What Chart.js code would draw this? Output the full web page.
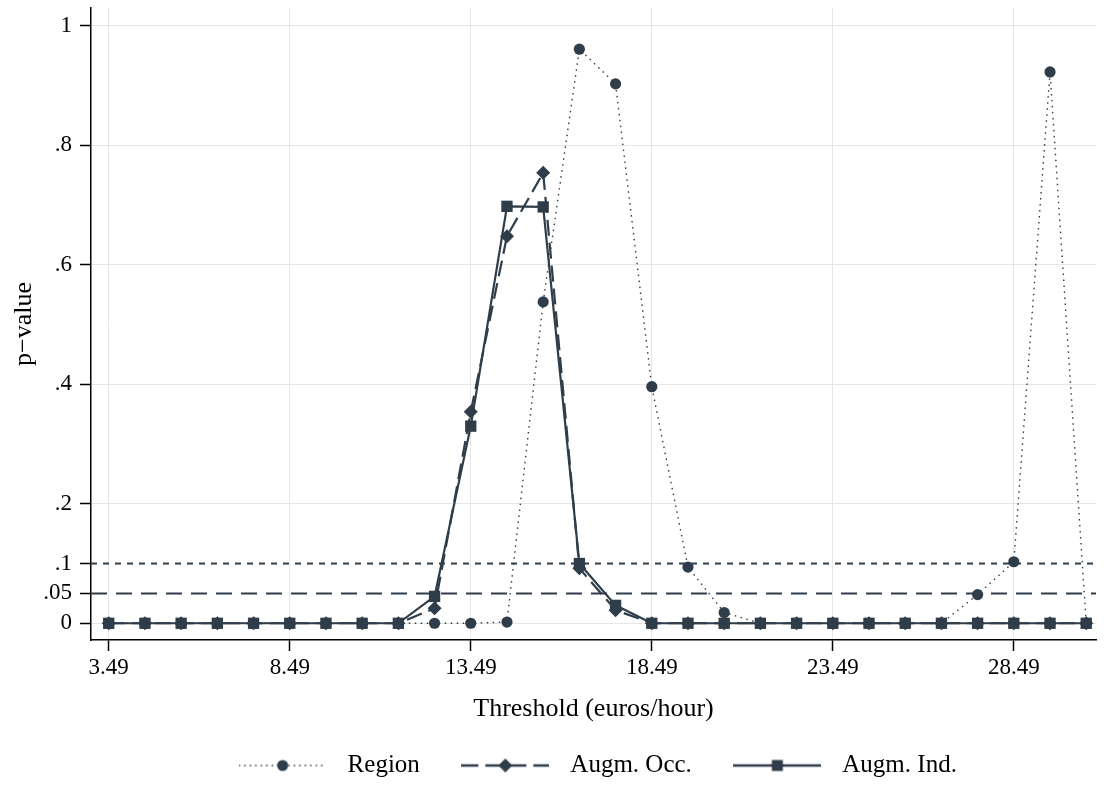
<!DOCTYPE html>
<html>
<head>
<meta charset="utf-8">
<title>p-value by threshold</title>
<script src="https://cdn.jsdelivr.net/npm/chart.js@4.4.1/dist/chart.umd.min.js"></script>
<style>
  html, body { margin: 0; padding: 0; background: #fff; }
  #wrap { width: 1104px; height: 785px; }
</style>
</head>
<body>
<div id="wrap"><canvas id="pChart" width="1104" height="785"></canvas></div>
<script>
// Thresholds (euros/hour) and the p-value of each test at that threshold
const thresholds = [3.49, 4.49, 5.49, 6.49, 7.49, 8.49, 9.49, 10.49, 11.49, 12.49,
                    13.49, 14.49, 15.49, 16.49, 17.49, 18.49, 19.49, 20.49, 21.49,
                    22.49, 23.49, 24.49, 25.49, 26.49, 27.49, 28.49, 29.49, 30.49];
const region   = [0, 0, 0, 0, 0, 0, 0, 0, 0, 0, 0, 0.002, 0.538, 0.961, 0.903, 0.396,
                  0.094, 0.018, 0, 0, 0, 0, 0, 0, 0.048, 0.103, 0.923, 0];
const augmOcc  = [0, 0, 0, 0, 0, 0, 0, 0, 0, 0.025, 0.354, 0.648, 0.754, 0.092, 0.022,
                  0, 0, 0, 0, 0, 0, 0, 0, 0, 0, 0, 0, 0];
const augmInd  = [0, 0, 0, 0, 0, 0, 0, 0, 0, 0.045, 0.330, 0.698, 0.697, 0.100, 0.030,
                  0, 0, 0, 0, 0, 0, 0, 0, 0, 0, 0, 0, 0];

// Significance levels drawn as horizontal reference lines
const refLevels = [0.1, 0.05];

const xTicks = [3.49, 8.49, 13.49, 18.49, 23.49, 28.49];
const yTicks = [0, 0.05, 0.1, 0.2, 0.4, 0.6, 0.8, 1];
const yTickLabels = ["0", ".05", ".1", ".2", ".4", ".6", ".8", "1"];

document.addEventListener("DOMContentLoaded", () => {

    const ink = "#2f3d4a";
    const xMin = 3.0, xMax = 30.76;

    Chart.defaults.font.family = "'Liberation Serif', 'Times New Roman', serif";
    Chart.defaults.color = "#000";

    const toPoints = arr => arr.map((v, i) => ({ x: thresholds[i], y: v }));

    // Small line + marker swatch used as the legend symbol
    function legendIcon(dash, lineWidth, marker) {
        const c = document.createElement("canvas");
        c.width = 88;
        c.height = 20;
        const g = c.getContext("2d");
        g.strokeStyle = ink;
        g.fillStyle = ink;
        g.lineWidth = lineWidth;
        g.setLineDash(dash);
        g.beginPath();
        g.moveTo(0, 10);
        g.lineTo(88, 10);
        g.stroke();
        g.setLineDash([]);
        g.beginPath();
        if (marker === "circle") {
            g.arc(44, 10, 5.5, 0, Math.PI * 2);
        } else if (marker === "diamond") {
            g.moveTo(44, 3); g.lineTo(51, 10); g.lineTo(44, 17); g.lineTo(37, 10);
            g.closePath();
        } else {
            g.rect(38.5, 4.5, 11, 11);
        }
        g.fill();
        return c;
    }

    const icons = [
        legendIcon([1.5, 4], 1.3, "circle"),
        legendIcon([17, 7], 2.4, "diamond"),
        legendIcon([], 2.4, "square")
    ];

    // ---------- Datasets ----------
    const datasets = [
        {
            label: "Region",
            data: toPoints(region),
            borderColor: ink,
            borderWidth: 1.4,
            borderDash: [1.5, 4.5],
            pointStyle: "circle",
            pointRadius: 5.6,
            pointBackgroundColor: ink,
            pointBorderWidth: 0,
            order: 3
        },
        {
            label: "Augm. Occ.",
            data: toPoints(augmOcc),
            borderColor: ink,
            borderWidth: 2.2,
            borderDash: [16, 7],
            pointStyle: "rectRot",
            pointRadius: 7,
            pointBackgroundColor: ink,
            pointBorderWidth: 0,
            order: 2
        },
        {
            label: "Augm. Ind.",
            data: toPoints(augmInd),
            borderColor: ink,
            borderWidth: 2.2,
            pointStyle: "rect",
            pointRadius: 8,
            pointBackgroundColor: ink,
            pointBorderWidth: 0,
            order: 1
        }
    ];

    const refDash = [[6, 6], [16, 9]];
    refLevels.forEach((lvl, i) => {
        datasets.push({
            label: "ref" + i,
            data: [{ x: xMin, y: lvl }, { x: xMax, y: lvl }],
            borderColor: ink,
            borderWidth: 2,
            borderDash: refDash[i],
            pointRadius: 0,
            order: 10
        });
    });

    new Chart(document.getElementById("pChart"), {
        type: "line",
        data: { datasets },
        options: {
            responsive: false,
            animation: false,
            events: [],
            layout: { padding: { top: 6, right: 4, bottom: -3, left: 0 } },
            plugins: {
                tooltip: { enabled: false },
                legend: {
                    position: "bottom",
                    fullSize: false,
                    labels: {
                        usePointStyle: true,
                        pointStyleWidth: 105,
                        padding: 33,
                        font: { size: 25 },
                        generateLabels: chart => chart.data.datasets.slice(0, 3).map((ds, i) => ({
                            text: ds.label,
                            datasetIndex: i,
                            pointStyle: icons[i],
                            fillStyle: ink,
                            strokeStyle: ink,
                            lineWidth: 0,
                            fontColor: "#000",
                            hidden: false
                        }))
                    }
                }
            },
            scales: {
                x: {
                    type: "linear",
                    min: xMin,
                    max: xMax,
                    afterBuildTicks: scale => { scale.ticks = xTicks.map(v => ({ value: v })); },
                    afterFit: scale => {
                        scale.height = 80;
                        scale.paddingLeft = 0;
                        scale.paddingRight = 0;
                    },
                    ticks: {
                        padding: 3,
                        font: { size: 23 },
                        callback: v => v.toFixed(2)
                    },
                    grid: {
                        color: "#e6e6e6",
                        lineWidth: 1,
                        tickColor: "#000",
                        tickWidth: 1.5,
                        tickLength: 11
                    },
                    border: { display: true, color: "#000", width: 1.5 },
                    title: {
                        display: true,
                        text: "Threshold (euros/hour)",
                        font: { size: 26 },
                        padding: { top: 0, bottom: -5 }
                    }
                },
                y: {
                    type: "linear",
                    min: -0.028,
                    max: 1.03,
                    afterBuildTicks: scale => { scale.ticks = yTicks.map(v => ({ value: v })); },
                    afterFit: scale => {
                        scale.width = 91;
                        scale.paddingTop = 0;
                        scale.paddingBottom = 0;
                    },
                    ticks: {
                        padding: 8,
                        font: { size: 23 },
                        callback: (v, i) => yTickLabels[i]
                    },
                    grid: {
                        color: ctx => (ctx.tick && refLevels.includes(ctx.tick.value)) ? "rgba(0,0,0,0)" : "#e6e6e6",
                        lineWidth: 1,
                        tickColor: "#000",
                        tickWidth: 1.5,
                        tickLength: 11
                    },
                    border: { display: true, color: "#000", width: 1.5 },
                    title: {
                        display: true,
                        text: "p\u2212value",
                        font: { size: 26 },
                        padding: { top: 9, bottom: 0 }
                    }
                }
            }
        }
    });
});
</script>
</body>
</html>
